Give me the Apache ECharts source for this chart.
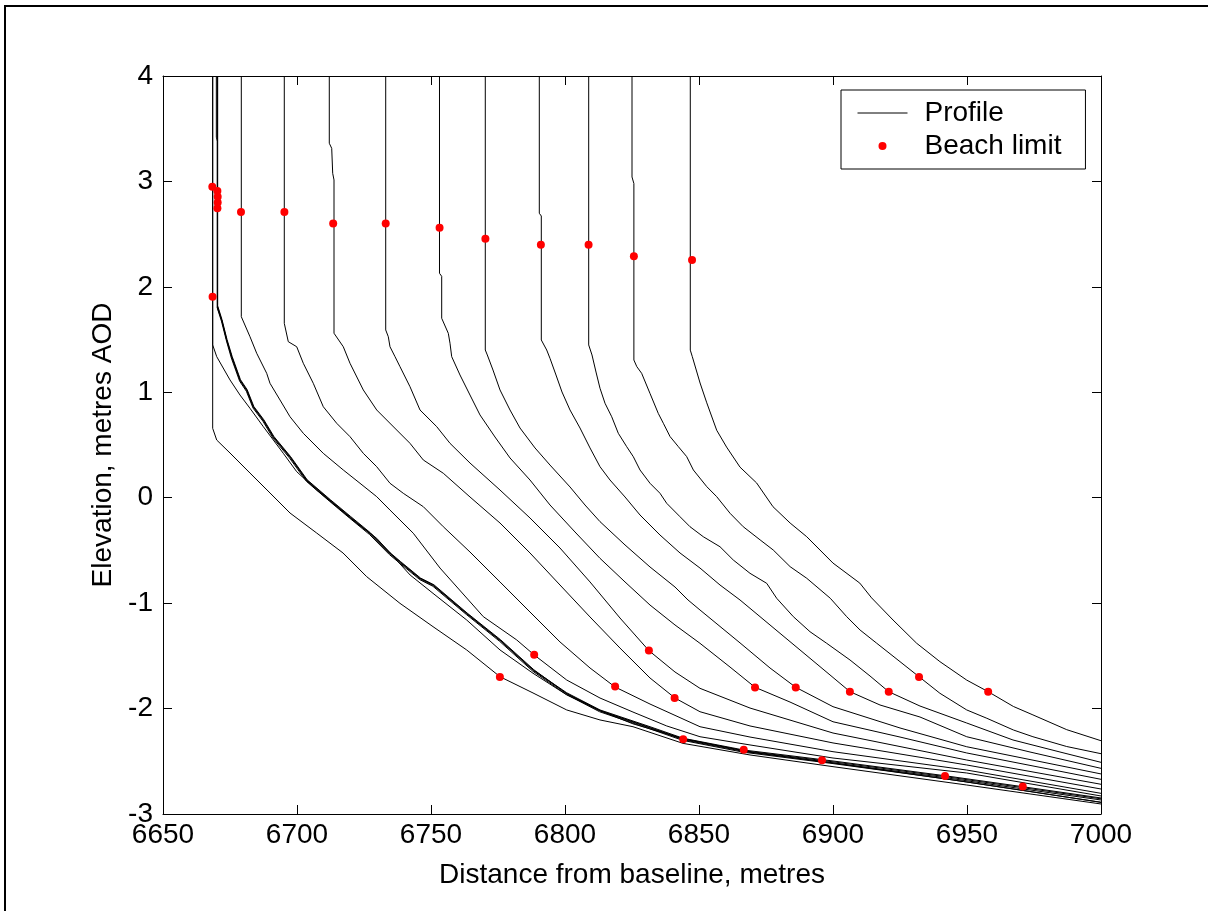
<!DOCTYPE html>
<html>
<head>
<meta charset="utf-8">
<script src="https://cdn.jsdelivr.net/npm/echarts@6/dist/echarts.min.js"></script>
<style>html,body{margin:0;padding:0;background:#fff;}#c{width:1208px;height:911px;}</style>
</head>
<body>
<div id="c"></div>
<script>
// Profiles: [distance (m), elevation (m AOD)]
var p1 = [[6668.54,4],[6668.54,0.658],[6670.04,0.547],[6675.0,0.424],[6682.46,0.234],[6689.93,0.045],[6697.39,-0.145],[6707.35,-0.335],[6717.16,-0.524],[6726.01,-0.749],[6738.43,-1.002],[6750.75,-1.223],[6763.32,-1.444],[6775.75,-1.698],[6788.06,-1.852],[6800.63,-2.013],[6813.06,-2.108],[6825.37,-2.172],[6844.03,-2.33],[6869.03,-2.44],[6900,-2.551],[6949.89,-2.725],[7000,-2.905]];
var p2 = [[6668.54,4],[6668.54,1.449],[6670.04,1.338],[6675.0,1.117],[6678.73,0.974],[6682.46,0.848],[6687.43,0.674],[6694.89,0.421],[6699.89,0.247],[6707.35,0.073],[6714.81,-0.085],[6722.27,-0.243],[6729.74,-0.385],[6742.2,-0.733],[6750.75,-0.907],[6763.32,-1.16],[6775.75,-1.444],[6788.06,-1.665],[6800.63,-1.87],[6813.06,-2.02],[6825.37,-2.145],[6844.14,-2.285],[6869.03,-2.412],[6900,-2.516],[6949.89,-2.696],[7000,-2.889]];
var p3 = [[6670.34,4],[6670.34,1.812],[6671.9,1.686],[6673.77,1.496],[6675.63,1.338],[6678.73,1.117],[6681.23,1.022],[6683.69,0.863],[6687.43,0.737],[6691.16,0.579],[6697.39,0.389],[6703.62,0.168],[6712.31,-0.022],[6719.78,-0.18],[6727.24,-0.337],[6734.7,-0.527],[6738.43,-0.607],[6745.9,-0.764],[6750.86,-0.828],[6763.32,-1.096],[6775.75,-1.35],[6788.17,-1.634],[6800.63,-1.85],[6813.06,-2.013],[6831.72,-2.172],[6844.14,-2.282],[6866.68,-2.393],[6900,-2.497],[6941.79,-2.637],[6970.78,-2.741],[7000,-2.848]];
var p4 = [[6669.9,4],[6669.9,3.42],[6670.3,3.38],[6670.3,1.80],[6671.95,1.68],[6673.8,1.49],[6675.7,1.33],[6678.8,1.11],[6681.3,1.015],[6683.8,0.855],[6687.5,0.73],[6691.3,0.57],[6697.5,0.38],[6703.7,0.16],[6712.4,-0.03],[6719.9,-0.19],[6727.4,-0.345],[6734.8,-0.535],[6738.5,-0.615],[6746.0,-0.772],[6751.0,-0.836],[6763.4,-1.104],[6775.9,-1.358],[6788.3,-1.642],[6800.7,-1.858],[6813.2,-2.02],[6831.8,-2.18],[6844.2,-2.29],[6866.8,-2.40],[6900,-2.505],[6941.8,-2.645],[6970.8,-2.75],[7000,-2.856]];
var p5 = [[6670.4,4],[6670.4,1.82],[6672.0,1.69],[6673.9,1.50],[6675.8,1.34],[6678.9,1.12],[6681.4,1.025],[6683.9,0.865],[6687.6,0.74],[6691.4,0.58],[6697.6,0.39],[6703.8,0.17],[6712.5,-0.02],[6720.0,-0.178],[6727.5,-0.335],[6734.9,-0.525],[6738.6,-0.605],[6746.1,-0.762],[6751.1,-0.826],[6763.5,-1.094],[6776.0,-1.348],[6788.4,-1.632],[6800.8,-1.862],[6813.3,-2.025],[6831.9,-2.186],[6844.3,-2.297],[6866.9,-2.408],[6900,-2.515],[6941.8,-2.655],[6970.8,-2.762],[7000,-2.867]];
var p6 = [[6670.25,4],[6670.25,1.80],[6671.8,1.675],[6673.7,1.485],[6675.5,1.325],[6678.6,1.105],[6681.1,1.01],[6683.6,0.85],[6687.3,0.725],[6691.0,0.567],[6697.2,0.377],[6703.5,0.155],[6712.2,-0.035],[6719.6,-0.193],[6727.1,-0.35],[6734.5,-0.54],[6738.3,-0.62],[6745.8,-0.777],[6750.7,-0.84],[6763.2,-1.108],[6775.6,-1.362],[6788.0,-1.646],[6800.5,-1.866],[6812.9,-2.03],[6831.6,-2.192],[6844.0,-2.302],[6866.6,-2.414],[6900,-2.522],[6941.8,-2.666],[6970.8,-2.776],[7000,-2.889]];
var p7 = [[6679.22,4],[6679.22,1.717],[6682.46,1.527],[6684.96,1.37],[6688.69,1.18],[6689.93,1.085],[6693.66,0.927],[6697.39,0.768],[6702.35,0.611],[6709.81,0.421],[6717.27,0.263],[6723.51,0.137],[6729.74,0.01],[6734.7,-0.117],[6743.39,-0.337],[6753.36,-0.667],[6769.51,-1.128],[6781.98,-1.349],[6788.54,-1.492],[6800.63,-1.729],[6813.06,-1.9],[6825.37,-2.033],[6837.95,-2.165],[6850.37,-2.267],[6869.03,-2.345],[6900,-2.469],[6949.89,-2.611],[7000,-2.829]];
var p8 = [[6695.26,4],[6695.26,1.654],[6696.75,1.48],[6699.89,1.432],[6702.35,1.275],[6706.08,1.085],[6709.81,0.863],[6714.81,0.706],[6719.78,0.579],[6724.74,0.421],[6729.74,0.294],[6734.7,0.137],[6739.66,0.042],[6747.13,-0.085],[6754.59,-0.275],[6764.55,-0.515],[6775.75,-0.799],[6786.94,-1.084],[6798.13,-1.368],[6809.33,-1.615],[6818.66,-1.795],[6831.72,-1.957],[6850.37,-2.172],[6869.03,-2.27],[6900,-2.409],[6949.89,-2.583],[7000,-2.804]];
var p9 = [[6712.05,4],[6712.05,3.362],[6712.95,3.314],[6713.32,3.077],[6713.81,3.014],[6713.81,1.56],[6717.27,1.432],[6719.78,1.275],[6724.74,1.022],[6729.74,0.832],[6737.2,0.642],[6742.16,0.516],[6747.13,0.358],[6754.59,0.232],[6764.55,0.007],[6775.75,-0.24],[6786.94,-0.524],[6798.13,-0.828],[6809.33,-1.131],[6820.52,-1.426],[6831.72,-1.71],[6841.04,-1.9],[6850.37,-2.03],[6869.03,-2.165],[6900,-2.326],[6949.89,-2.535],[7000,-2.763]];
var p10 = [[6733.1,4],[6733.1,1.591],[6734.07,1.527],[6734.7,1.432],[6736.57,1.338],[6738.43,1.243],[6742.16,1.053],[6745.9,0.832],[6752.13,0.674],[6757.09,0.516],[6764.55,0.329],[6775.75,0.073],[6786.94,-0.192],[6798.13,-0.477],[6809.33,-0.799],[6820.52,-1.141],[6831.34,-1.451],[6841.04,-1.653],[6850.37,-1.808],[6869.03,-1.995],[6900,-2.232],[6949.89,-2.488],[7000,-2.718]];
var p11 = [[6753.17,4],[6753.17,2.129],[6753.99,2.10],[6753.99,1.702],[6756.46,1.559],[6757.09,1.465],[6757.72,1.338],[6760.82,1.164],[6764.55,0.974],[6768.28,0.785],[6773.88,0.576],[6779.48,0.377],[6786.94,0.168],[6794.4,-0.069],[6803.73,-0.325],[6813.06,-0.575],[6822.39,-0.799],[6831.72,-1.018],[6841.04,-1.207],[6850.37,-1.381],[6861.57,-1.606],[6870.9,-1.798],[6883.96,-1.938],[6900,-2.125],[6925,-2.27],[6949.89,-2.421],[7000,-2.671]];
var p12 = [[6770.26,4],[6770.26,1.401],[6771.01,1.354],[6773.13,1.211],[6775.75,1.022],[6779.48,0.832],[6783.21,0.661],[6788.81,0.472],[6794.4,0.31],[6801.87,0.102],[6807.46,-0.069],[6813.06,-0.227],[6822.39,-0.448],[6831.72,-0.657],[6841.04,-0.847],[6845.9,-0.97],[6850.37,-1.065],[6865.3,-1.377],[6876.49,-1.615],[6886.08,-1.798],[6900,-1.982],[6925,-2.184],[6949.89,-2.362],[7000,-2.62]];
var p13 = [[6790.41,4],[6790.41,2.698],[6791.16,2.672],[6791.16,1.496],[6793.17,1.401],[6794.4,1.322],[6796.64,1.164],[6798.88,1.003],[6801.87,0.832],[6805.6,0.661],[6809.33,0.472],[6813.06,0.294],[6816.79,0.168],[6822.39,0.007],[6827.99,-0.164],[6835.45,-0.354],[6842.91,-0.524],[6850.37,-0.667],[6857.84,-0.828],[6865.3,-0.97],[6876.49,-1.207],[6887.69,-1.444],[6898.88,-1.681],[6906.34,-1.84],[6917.54,-1.966],[6932.46,-2.08],[6949.89,-2.267],[6973.51,-2.412],[7000,-2.567]];
var p14 = [[6808.84,4],[6808.84,1.449],[6810.07,1.354],[6811.57,1.192],[6813.06,1.038],[6814.93,0.896],[6817.43,0.768],[6819.89,0.611],[6823.02,0.484],[6825.49,0.389],[6827.99,0.263],[6831.72,0.137],[6835.45,0.042],[6837.95,-0.053],[6842.91,-0.18],[6846.64,-0.275],[6851.6,-0.37],[6857.84,-0.465],[6862.8,-0.591],[6869.03,-0.717],[6875.26,-0.812],[6878.99,-0.954],[6885.19,-1.128],[6891.42,-1.271],[6897.65,-1.381],[6906.34,-1.539],[6913.81,-1.691],[6920.78,-1.84],[6932.46,-1.976],[6949.89,-2.137],[6967.16,-2.298],[6984.7,-2.412],[7000,-2.51]];
var p15 = [[6825.0,4],[6825.0,3.042],[6825.7,2.98],[6825.7,1.306],[6826.8,1.243],[6828.6,1.18],[6831.7,0.99],[6834.8,0.80],[6836.7,0.706],[6839.2,0.58],[6842.3,0.484],[6845.4,0.39],[6847.9,0.263],[6852.9,0.105],[6856.6,0.01],[6861.6,-0.148],[6866.5,-0.275],[6872.8,-0.40],[6877.7,-0.496],[6884.0,-0.654],[6890.2,-0.764],[6899.0,-0.954],[6905.1,-1.128],[6910.1,-1.255],[6916.3,-1.38],[6925.0,-1.555],[6932.1,-1.698],[6939.9,-1.855],[6949.9,-2.013],[6957.4,-2.092],[6967.3,-2.203],[6974.6,-2.267],[6987.2,-2.36],[7000,-2.428]];
var p16 = [[6846.75,4],[6846.75,1.40],[6847.5,1.338],[6850.4,1.088],[6852.9,0.90],[6856.6,0.64],[6860.3,0.48],[6865.3,0.29],[6871.5,0.14],[6877.6,-0.085],[6884.0,-0.24],[6890.2,-0.37],[6900.0,-0.62],[6910.0,-0.81],[6914.4,-0.95],[6922.4,-1.16],[6931.2,-1.38],[6939.9,-1.555],[6949.9,-1.73],[6957.9,-1.84],[6967.3,-1.98],[6974.6,-2.06],[6987.2,-2.20],[7000,-2.305]];

// Beach limit points
var beachUpper = [[6668.4,2.95],[6670.3,2.91],[6670.4,2.855],[6670.4,2.80],[6670.3,2.745],[6679.1,2.71],[6695.3,2.71],[6713.5,2.60],[6733.1,2.60],[6753.2,2.56],[6770.3,2.457],[6791.0,2.40],[6808.8,2.40],[6825.7,2.29],[6847.4,2.255],[6668.5,1.907]];
var beachLower = [[6775.7,-1.70],[6788.5,-1.49],[6818.7,-1.79],[6831.3,-1.45],[6840.9,-1.90],[6844.1,-2.29],[6866.7,-2.39],[6870.9,-1.80],[6886.1,-1.80],[6895.9,-2.49],[6906.3,-1.84],[6920.8,-1.84],[6932.1,-1.70],[6941.8,-2.64],[6957.9,-1.84],[6970.8,-2.74]];

var xMin = 6650, xMax = 7000, xStep = 50;
var yMin = -3, yMax = 4, yStep = 1;

var profiles = [p1,p2,p3,p4,p5,p6,p7,p8,p9,p10,p11,p12,p13,p14,p15,p16];
var font = 'Liberation Sans, Arial, sans-serif';
var FS = 28;

var series = profiles.map(function (p) {
  return {
    name: 'Profile', type: 'line', data: p, symbol: 'none', showSymbol: false,
    lineStyle: { color: '#000', width: 1 }, itemStyle: { color: '#000' },
    xAxisIndex: 0, yAxisIndex: 0, z: 2, silent: true, animation: false
  };
});
series.push({
  name: 'Beach limit', type: 'scatter', data: beachUpper.concat(beachLower),
  symbol: 'circle', symbolSize: 8, itemStyle: { color: '#ff0000', opacity: 1 },
  xAxisIndex: 0, yAxisIndex: 0, z: 5, animation: false
});

function axisCommon(showLabel) {
  return {
    axisLine: { show: true, onZero: false, lineStyle: { color: '#000', width: 1 } },
    axisTick: { show: true, inside: true, length: 9, lineStyle: { color: '#000', width: 1 } },
    axisLabel: { show: showLabel, color: '#000', fontSize: FS, fontFamily: font,
                 formatter: function (v) { return String(v); } },
    splitLine: { show: false }
  };
}

var xb = Object.assign(axisCommon(true), {
  type: 'value', min: xMin, max: xMax, interval: xStep, position: 'bottom',
  name: 'Distance from baseline, metres', nameLocation: 'middle', nameGap: 47,
  nameTextStyle: { color: '#000', fontSize: FS, fontFamily: font }
});
xb.axisLabel.margin = 7;
var xt = Object.assign(axisCommon(false), { type: 'value', min: xMin, max: xMax, interval: xStep, position: 'top' });
var yl = Object.assign(axisCommon(true), {
  type: 'value', min: yMin, max: yMax, interval: yStep, position: 'left',
  name: 'Elevation, metres AOD', nameLocation: 'middle', nameGap: 46,
  nameTextStyle: { color: '#000', fontSize: FS, fontFamily: font }
});
yl.axisLabel.margin = 10;
var yr = Object.assign(axisCommon(false), { type: 'value', min: yMin, max: yMax, interval: yStep, position: 'right' });

var chart = echarts.init(document.getElementById('c'), null, { renderer: 'canvas' });
chart.setOption({
  backgroundColor: '#fff',
  animation: false,
  grid: { left: 163, right: 107, top: 76, bottom: 97, containLabel: false },
  xAxis: [xb, xt],
  yAxis: [yl, yr],
  legend: {
    data: [
      { name: 'Profile', itemStyle: { color: 'rgba(0,0,0,0)', borderWidth: 0, opacity: 0 },
        lineStyle: { color: '#000', width: 1, opacity: 1 } },
      { name: 'Beach limit', icon: 'circle' }
    ],
    orient: 'vertical', left: 841, top: 90,
    padding: [9, 24, 9, 16], itemGap: 5, itemWidth: 50, itemHeight: 8,
    borderColor: '#000', borderWidth: 1, backgroundColor: '#fff',
    textStyle: { color: '#000', fontSize: FS, fontFamily: font, padding: [0, 0, 0, 12] },
    selectedMode: false
  },
  graphic: [{
    type: 'polyline', silent: true,
    shape: { points: [[1208, 6], [5, 6], [5, 911]] },
    style: { stroke: '#000', lineWidth: 2, fill: null }
  }],
  series: series
});
</script>
</body>
</html>
